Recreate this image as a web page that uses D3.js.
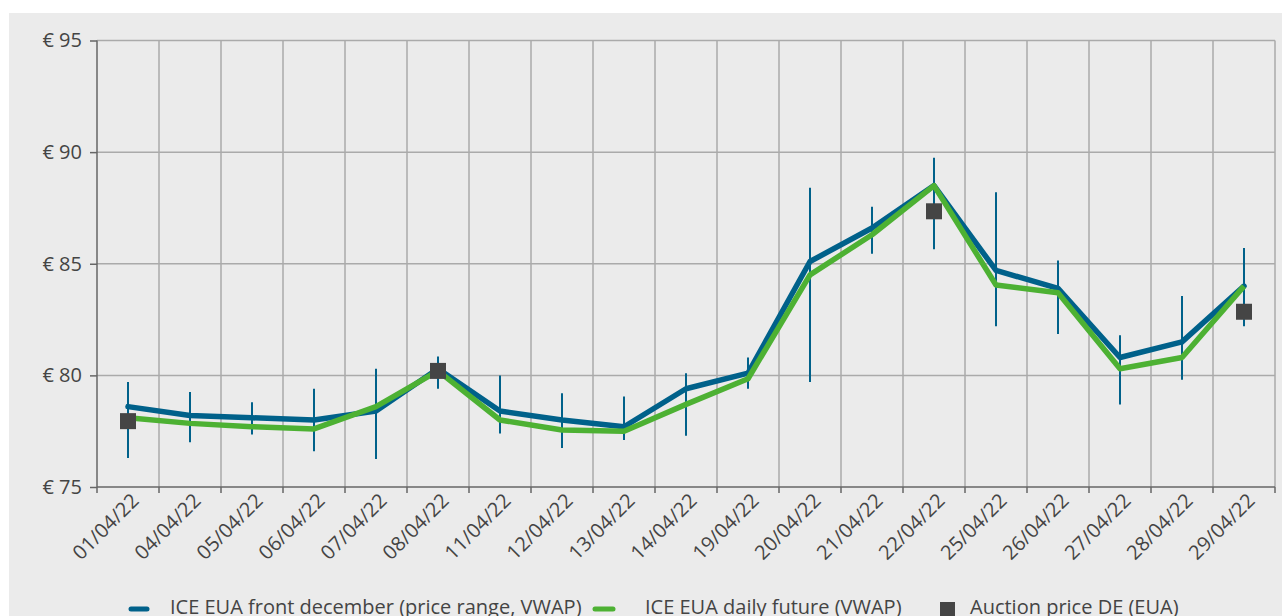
<!DOCTYPE html>
<html>
<head>
<meta charset="utf-8">
<script src="https://cdn.jsdelivr.net/npm/d3@7"></script>
<style>
  body { margin: 0; background: #fff; }
  svg { display: block; }
</style>
</head>
<body>
<div id="chart"></div>
<script>
const dates = ["01/04/22","04/04/22","05/04/22","06/04/22","07/04/22","08/04/22","11/04/22","12/04/22",
  "13/04/22","14/04/22","19/04/22","20/04/22","21/04/22","22/04/22","25/04/22","26/04/22","27/04/22","28/04/22","29/04/22"];
const frontDec = [78.6, 78.2, 78.1, 78.0, 78.4, 80.3, 78.4, 78.0, 77.7, 79.4, 80.1, 85.1, 86.6, 88.5, 84.7, 83.9, 80.8, 81.5, 84.0];
const rangeHigh = [79.7, 79.25, 78.8, 79.4, 80.3, 80.85, 80.0, 79.2, 79.05, 80.1, 80.8, 88.4, 87.55, 89.75, 88.2, 85.15, 81.8, 83.55, 85.7];
const rangeLow  = [76.3, 77.0, 77.35, 76.6, 76.25, 79.4, 77.4, 76.75, 77.1, 77.3, 79.4, 79.7, 85.45, 85.65, 82.2, 81.85, 78.7, 79.8, 82.2];
const dailyFut = [78.1, 77.85, 77.7, 77.6, 78.6, 80.2, 78.0, 77.55, 77.5, 78.7, 79.85, 84.5, 86.3, 88.5, 84.05, 83.7, 80.3, 80.8, 84.0];
const auctionDates = ["01/04/22", "08/04/22", "22/04/22", "29/04/22"];
const auctionPrice = [77.95, 80.2, 87.35, 82.85];
const yTicks = [75, 80, 85, 90, 95];
const legendLabels = ["ICE EUA front december (price range, VWAP)", "ICE EUA daily future (VWAP)", "Auction price DE (EUA)"];

const blue = "#00618a", green = "#4db133", sq = "#454545";
const W = 1282, H = 616;
const m = {left: 97, right: 1275, top: 40.5, bottom: 487};
const font = "'Open Sans', sans-serif";

const svg = d3.select("#chart").append("svg").attr("width", W).attr("height", H);
svg.append("rect").attr("x", 9).attr("y", 13).attr("width", W - 9).attr("height", H - 13).attr("fill", "#ebebeb");

const x = d3.scaleBand().domain(dates).range([m.left, m.right]).padding(0);
const y = d3.scaleLinear().domain([75, 95]).range([m.bottom, m.top]);
const cx = d => x(d) + x.bandwidth() / 2;

// horizontal grid
svg.append("g").selectAll("line").data(yTicks.filter(v => v > 75)).join("line")
  .attr("x1", m.left).attr("x2", m.right).attr("y1", d => y(d)).attr("y2", d => y(d))
  .attr("stroke", "#aaaaaa").attr("stroke-width", 1.5);

// vertical grid at band edges
const edges = dates.map(d => x(d)).slice(1).concat([m.right]);
svg.append("g").selectAll("line").data(edges).join("line")
  .attr("x1", d => d).attr("x2", d => d).attr("y1", m.top).attr("y2", m.bottom)
  .attr("stroke", "#aaaaaa").attr("stroke-width", 1.5);

// y axis
const yAxis = d3.axisLeft(y).tickValues(yTicks).tickSize(7).tickPadding(8).tickFormat(d => "€ " + d);
svg.append("g").attr("transform", `translate(${m.left},0)`).call(yAxis)
  .call(g => g.select(".domain").remove())
  .call(g => g.selectAll(".tick line").attr("stroke", "#666").attr("stroke-width", 1.5))
  .call(g => g.selectAll("text").attr("font-family", font).attr("font-size", 20).attr("fill", "#444"));
svg.append("line").attr("x1", m.left).attr("x2", m.left).attr("y1", m.top).attr("y2", m.bottom)
  .attr("stroke", "#666").attr("stroke-width", 1.5);

// x axis
const xAxis = d3.axisBottom(x).tickSize(0).tickPadding(0);
const xg = svg.append("g").attr("transform", `translate(0,${m.bottom})`).call(xAxis);
xg.select(".domain").remove();
xg.selectAll(".tick text")
  .attr("font-family", font).attr("font-size", 20).attr("fill", "#444")
  .attr("text-anchor", "end").attr("dy", 0)
  .attr("transform", "translate(12,15) rotate(-45)");
svg.append("line").attr("x1", m.left).attr("x2", m.right).attr("y1", m.bottom).attr("y2", m.bottom)
  .attr("stroke", "#666").attr("stroke-width", 1.5);
svg.append("g").selectAll("line").data([m.left].concat(edges)).join("line")
  .attr("x1", d => d).attr("x2", d => d).attr("y1", m.bottom).attr("y2", m.bottom + 6)
  .attr("stroke", "#666").attr("stroke-width", 1.5);

// range bars
svg.append("g").selectAll("line").data(dates).join("line")
  .attr("x1", d => cx(d)).attr("x2", d => cx(d))
  .attr("y1", (d, i) => y(rangeHigh[i])).attr("y2", (d, i) => y(rangeLow[i]))
  .attr("stroke", blue).attr("stroke-width", 2);

const line = d3.line().x((d, i) => cx(dates[i])).y(d => y(d));
svg.append("path").datum(frontDec).attr("d", line)
  .attr("fill", "none").attr("stroke", blue).attr("stroke-width", 5.5).attr("stroke-linejoin", "round").attr("stroke-linecap", "round");
svg.append("path").datum(dailyFut).attr("d", line)
  .attr("fill", "none").attr("stroke", green).attr("stroke-width", 5.5).attr("stroke-linejoin", "round");

// auction squares
svg.append("g").selectAll("rect").data(auctionDates).join("rect")
  .attr("x", d => cx(d) - 8).attr("y", (d, i) => y(auctionPrice[i]) - 8)
  .attr("width", 16).attr("height", 16).attr("fill", sq);

// legend
const lg = svg.append("g").attr("font-family", font).attr("font-size", 20).attr("fill", "#444");
lg.append("line").attr("x1", 131).attr("x2", 147).attr("y1", 609).attr("y2", 609)
  .attr("stroke", blue).attr("stroke-width", 5).attr("stroke-linecap", "round");
lg.append("text").attr("x", 170).attr("y", 614).text(legendLabels[0]);
lg.append("line").attr("x1", 595).attr("x2", 613).attr("y1", 609).attr("y2", 609)
  .attr("stroke", green).attr("stroke-width", 5).attr("stroke-linecap", "round");
lg.append("text").attr("x", 645).attr("y", 614).text(legendLabels[1]);
lg.append("rect").attr("x", 940).attr("y", 602).attr("width", 15).attr("height", 15).attr("fill", sq);
lg.append("text").attr("x", 970).attr("y", 614).text(legendLabels[2]);
</script>
</body>
</html>
